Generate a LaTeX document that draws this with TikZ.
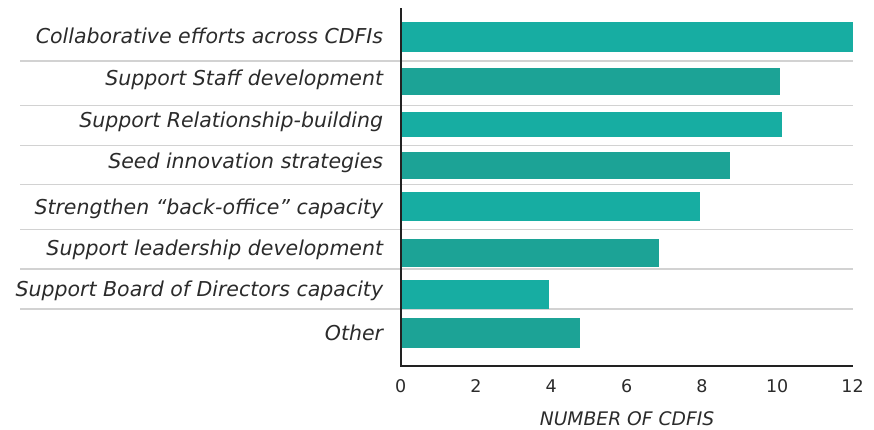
\documentclass[tikz,border=0pt]{standalone}
\usepackage{fontspec}
\setmainfont{DejaVu Sans}
\begin{document}
\begin{tikzpicture}[x=1pt,y=-1pt,
  barA/.style={fill=tealA},
  barB/.style={fill=tealB},
  sepline/.style={draw=sepgray,line width=1.2pt},
  axisline/.style={draw=axisdark,line width=2pt},
  lbl/.style={anchor=base east,inner sep=0pt,text=txt,font=\fontsize{20.5}{24}\selectfont\itshape},
  ticklbl/.style={anchor=base,inner sep=0pt,text=txt,font=\fontsize{17.5}{20}\selectfont},
  ttl/.style={anchor=base,inner sep=0pt,text=txt,font=\fontsize{18.7}{22}\selectfont\itshape}]
\definecolor{tealA}{HTML}{17ADA2}
\definecolor{tealB}{HTML}{1CA396}
\definecolor{sepgray}{HTML}{D2D2D2}
\definecolor{axisdark}{HTML}{222222}
\definecolor{txt}{HTML}{2B2B2B}
\useasboundingbox (0,0) rectangle (874,429);
% separators
\foreach \y in {61,105.3,145.7,184.7,229.3,269,309}{
  \draw[sepline] (20,\y) -- (852.5,\y);
}
% bars
\fill[barA] (400.7,22)  rectangle (852.5,51.7);
\fill[barB] (400.7,68)  rectangle (780,94.7);
\fill[barA] (400.7,112) rectangle (782,136.7);
\fill[barB] (400.7,152) rectangle (730,178.7);
\fill[barA] (400.7,192) rectangle (700,220.7);
\fill[barB] (400.7,239) rectangle (659,266.7);
\fill[barA] (400.7,280) rectangle (549,308.7);
\fill[barB] (400.7,318) rectangle (580,348);
% labels
\node[lbl] (l1) at (383.3,43.3)  {Collaborative efforts across CDFIs};
\node[lbl] (l2) at (383.3,85.3)  {Support Staff development};
\node[lbl] (l3) at (383.3,127.3) {Support Relationship-building};
\node[lbl] (l4) at (383.3,168.7) {Seed innovation strategies};
\node[lbl] (l5) at (383.3,214)   {Strengthen “back-office” capacity};
\node[lbl] (l6) at (383.3,255.3) {Support leadership development};
\node[lbl] (l7) at (383.3,296)   {Support Board of Directors capacity};
\node[lbl] (l8) at (383.3,340.7) {Other};
% axes
\draw[axisline] (400.7,8) -- (400.7,366) -- (852.5,366);
% ticks
\foreach \k/\v in {0/0,1/2,2/4,3/6,4/8,5/10,6/12}{
  \node[ticklbl] (t\k) at ({400.7+75.3*\k},392.7) {\v};
}
\node[ttl] (title) at (627,425.7) {NUMBER OF CDFIS};
\end{tikzpicture}
\end{document}
